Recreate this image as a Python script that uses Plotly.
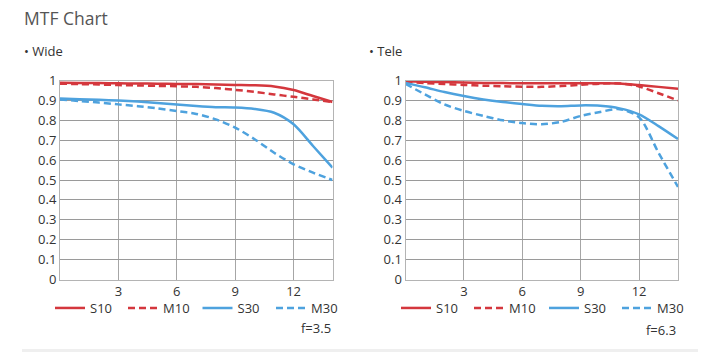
import plotly.graph_objects as go

# ---- data ----
x_wide = [0, 1, 2, 3, 4, 5, 6, 7, 8, 9, 10, 11, 12, 13, 14]
wide_S10 = [0.989, 0.988, 0.987, 0.986, 0.985, 0.984, 0.983, 0.982, 0.980, 0.978, 0.976, 0.970, 0.952, 0.922, 0.892]
wide_M10 = [0.984, 0.982, 0.980, 0.977, 0.975, 0.973, 0.971, 0.968, 0.962, 0.953, 0.943, 0.930, 0.918, 0.905, 0.892]
wide_S30 = [0.909, 0.906, 0.903, 0.899, 0.894, 0.887, 0.880, 0.872, 0.866, 0.864, 0.857, 0.838, 0.780, 0.671, 0.562]
wide_M30 = [0.905, 0.897, 0.889, 0.880, 0.871, 0.860, 0.847, 0.832, 0.805, 0.763, 0.705, 0.637, 0.579, 0.537, 0.500]

x_tele = [0, 1, 2, 3, 4, 5, 6, 7, 8, 9, 10, 11, 12, 13, 14]
tele_S10 = [0.996, 0.994, 0.992, 0.990, 0.988, 0.987, 0.986, 0.986, 0.986, 0.986, 0.986, 0.985, 0.977, 0.968, 0.959]
tele_M10 = [0.994, 0.987, 0.982, 0.978, 0.974, 0.971, 0.969, 0.968, 0.972, 0.978, 0.984, 0.985, 0.970, 0.936, 0.900]
tele_S30 = [0.988, 0.966, 0.942, 0.922, 0.905, 0.892, 0.882, 0.873, 0.871, 0.875, 0.873, 0.860, 0.830, 0.771, 0.706]
tele_M30 = [0.983, 0.930, 0.880, 0.847, 0.822, 0.800, 0.786, 0.780, 0.792, 0.822, 0.842, 0.856, 0.815, 0.637, 0.465]

series_names = ["S10", "M10", "S30", "M30"]
x_ticks = [3, 6, 9, 12]
y_ticks = [0, 0.1, 0.2, 0.3, 0.4, 0.5, 0.6, 0.7, 0.8, 0.9, 1]
y_tick_text = ["0", "0.1", "0.2", "0.3", "0.4", "0.5", "0.6", "0.7", "0.8", "0.9", "1"]
panel_titles = ["• Wide", "• Tele"]
f_labels = ["f=3.5", "f=6.3"]

RED = "#d4373d"
BLUE = "#4ea2de"
styles = {
    "S10": dict(color=RED, dash="solid"),
    "M10": dict(color=RED, dash="7px,4px"),
    "S30": dict(color=BLUE, dash="solid"),
    "M30": dict(color=BLUE, dash="7px,4px"),
}

W, H = 720, 352
MT, MB = 24, 24
FONT = "Open Sans"


def px(X):
    return X / W


def py(Y):
    return (H - MB - Y) / (H - MT - MB)


# legend swatch start positions (pixels) for each panel
legend_x_left = [58, 131, 205.5, 279]
legend_x_right = [404, 477, 552, 625]
LEGEND_Y = 308
LEGEND_SHIFT = 3  # plotly places the label a little further from the swatch

fig = go.Figure()

panels = [
    ("x", "y", x_wide, [wide_S10, wide_M10, wide_S30, wide_M30], legend_x_left, 1),
    ("x2", "y2", x_tele, [tele_S10, tele_M10, tele_S30, tele_M30], legend_x_right, 5),
]
legend_layouts = {}
for xa, ya, xs, ys_list, lxs, lg0 in panels:
    for i, (name, ys) in enumerate(zip(series_names, ys_list)):
        st = styles[name]
        lg_id = "legend" if lg0 + i == 1 else f"legend{lg0 + i}"
        fig.add_trace(go.Scatter(
            x=xs, y=ys, name=name, mode="lines",
            line=dict(color=st["color"], dash=st["dash"], width=2.5, shape="spline", smoothing=0.8),
            xaxis=xa, yaxis=ya, legend=lg_id, hoverinfo="skip",
        ))
        legend_layouts[lg_id] = dict(
            x=px(lxs[i] - 5 - LEGEND_SHIFT), y=py(LEGEND_Y), xanchor="left", yanchor="middle",
            orientation="h", font=dict(family=FONT, size=13, color="#333"),
            bgcolor="rgba(0,0,0,0)", itemwidth=30,
        )

# domains (pixel measurements from the reference)
ydom = [py(279.5), py(80.5)]
xdom1 = [px(60), px(332.5)]
xdom2 = [px(405.5), px(678)]

axis_common_x = dict(
    range=[0, 14], tickvals=x_ticks, showgrid=True, gridcolor="#a6a6a6", gridwidth=1,
    showline=True, mirror=True, linecolor="#b4b4b4", linewidth=1, zeroline=False,
    ticks="", tickfont=dict(family=FONT, size=13, color="#333"), fixedrange=True,
)
axis_common_y = dict(
    range=[0, 1], tickvals=y_ticks, ticktext=y_tick_text, showgrid=True, gridcolor="#9a9a9a",
    gridwidth=1, showline=True, mirror=True, linecolor="#b4b4b4", linewidth=1, zeroline=False,
    ticks="", tickfont=dict(family=FONT, size=13, color="#333"), fixedrange=True,
)

fig.update_layout(
    width=W, height=H,
    margin=dict(l=0, r=0, t=MT, b=MB),
    paper_bgcolor="white", plot_bgcolor="white",
    font=dict(family=FONT, color="#333"),
    xaxis=dict(domain=xdom1, anchor="y", **axis_common_x),
    yaxis=dict(domain=ydom, anchor="x", **axis_common_y),
    xaxis2=dict(domain=xdom2, anchor="y2", **axis_common_x),
    yaxis2=dict(domain=ydom, anchor="x2", **axis_common_y),
    showlegend=True,
    **legend_layouts,
)

annotations = [
    dict(text="MTF Chart", x=px(22), y=py(18), xref="paper", yref="paper",
         xanchor="left", yanchor="middle", showarrow=False,
         font=dict(family=FONT, size=17.5, color="#555")),
    dict(text=panel_titles[0], x=px(22), y=py(51), xref="paper", yref="paper",
         xanchor="left", yanchor="middle", showarrow=False,
         font=dict(family=FONT, size=13, color="#333")),
    dict(text=panel_titles[1], x=px(367), y=py(51), xref="paper", yref="paper",
         xanchor="left", yanchor="middle", showarrow=False,
         font=dict(family=FONT, size=13, color="#333")),
    dict(text=f_labels[0], x=px(333), y=py(328), xref="paper", yref="paper",
         xanchor="right", yanchor="middle", showarrow=False,
         font=dict(family=FONT, size=13, color="#333")),
    dict(text=f_labels[1], x=px(678), y=py(330), xref="paper", yref="paper",
         xanchor="right", yanchor="middle", showarrow=False,
         font=dict(family=FONT, size=13, color="#333")),
]
fig.update_layout(annotations=annotations)

fig.add_shape(type="rect", xref="paper", yref="paper",
              x0=px(22), x1=px(698), y0=py(352), y1=py(349),
              line=dict(width=0), fillcolor="#efefef", layer="below")

fig.write_html("out.html", config={"displayModeBar": False})
